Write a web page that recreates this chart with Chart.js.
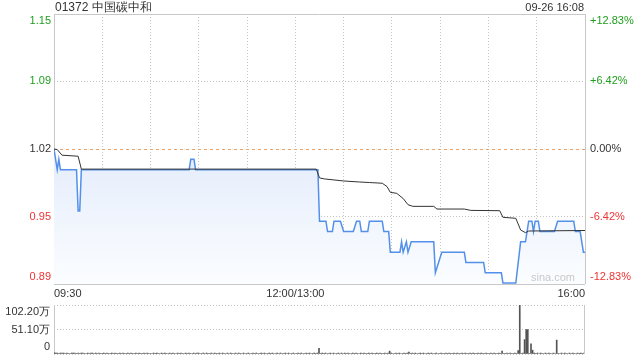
<!DOCTYPE html>
<html>
<head>
<meta charset="utf-8">
<script src="https://cdn.jsdelivr.net/npm/chart.js@4"></script>
<style>
body { margin: 0; background: #fff; }
#wrap { position: relative; width: 640px; height: 360px; font-family: "Liberation Sans", Arial, sans-serif; color: #333; overflow: hidden; }
#title { position: absolute; left: 55px; top: 0px; font-size: 12px; line-height: 15px; }
#time { position: absolute; right: 56px; top: 0px; font-size: 11px; line-height: 15px; }
#logo { position: absolute; left: 531px; top: 271px; font-size: 11px; color: #c8c8c8; }
canvas { position: absolute; left: 0; }
#priceChart { top: 0; }
#volumeChart { top: 300px; }
</style>
</head>
<body>
<div id="wrap">
  <canvas id="priceChart" width="640" height="300"></canvas>
  <canvas id="volumeChart" width="640" height="60"></canvas>
  <div id="title"></div>
  <div id="time"></div>
  <div id="logo">sina.com</div>
</div>
<script>
var stockName = "01372 中国碳中和";
var quoteTime = "09-26 16:08";
var prevClose = 1.02;
var pctTicks = [-12.83, -6.42, 0, 6.42, 12.83];
var timeTickMinutes = [0, 150, 330];
var timeTickLabels = ["09:30", "12:00/13:00", "16:00"];

// minutes since 09:30 (lunch break removed) where the price changes
var priceMinutes = [0, 2, 3, 4, 14, 15, 16, 17, 84, 85, 87, 88, 164, 165, 169, 170, 173, 174, 178, 180,
    186, 188, 190, 191, 195, 196, 204, 205, 208, 209, 215, 216, 217, 219, 220, 222, 236, 237, 239, 241,
    255, 256, 267, 268, 278, 279, 287, 290, 293, 295, 297, 298, 299, 301, 302, 311, 313, 323, 324, 327,
    329, 330];
var priceValues = [1.02, 1.00, 1.01, 1.00, 1.00, 0.96, 0.96, 1.00, 1.00, 1.01, 1.01, 1.00, 1.00, 0.95, 0.95, 0.94, 0.94, 0.95, 0.95, 0.94,
    0.94, 0.95, 0.95, 0.94, 0.94, 0.95, 0.95, 0.94, 0.94, 0.92, 0.92, 0.93, 0.92, 0.93, 0.92, 0.93, 0.93, 0.90, 0.91, 0.92,
    0.92, 0.91, 0.91, 0.90, 0.90, 0.89, 0.89, 0.93, 0.93, 0.95, 0.95, 0.94, 0.95, 0.95, 0.94, 0.94, 0.95, 0.95, 0.94, 0.94,
    0.92, 0.92];

var avgMinutes = [0, 2, 5, 15, 17, 163, 165, 168, 174, 180, 190, 196, 204, 207, 209, 213, 217, 220, 223, 236,
    238, 255, 259, 277, 279, 287, 290, 293, 295, 330];
var avgValues = [1.02, 1.0195, 1.014, 1.013, 1.0005, 1.0005, 0.992, 0.991, 0.990, 0.989, 0.988, 0.9875, 0.9868, 0.9835, 0.978, 0.977, 0.972, 0.966, 0.9644, 0.9644,
    0.9618, 0.9618, 0.9605, 0.9602, 0.9538, 0.9528, 0.9415, 0.9389, 0.9405, 0.941];

// volume per minute in 万 shares, one digit per minute for the quiet minutes
var volumeSmall =
    "322122212112221212211212212121" +
    "121211212112121121211212112121" +
    "112121121211212112121121211212" +
    "211212112121121211212112121121" +
    "121121211212112121121211212112" +
    "112121121211212112121121211212" +
    "121211212112121121211212112121" +
    "211212112121121211212112121121" +
    "121121211212112121121211212112" +
    "112121121211212112121121211212" +
    "121211212112121121211212112121" +
    "2";
var volumeBigMinutes = [165, 209, 221, 279, 289, 290, 293, 294, 295, 297, 298, 313];
var volumeBigValues = [12, 6, 4, 6, 7, 102.2, 30, 51, 51, 21, 8, 29];
var volumeTicks = [0, 51.10, 102.20];
var volumeTickLabels = ["0", "51.10万", "102.20万"];

var green = "#1e9e1e";
var red = "#ee3333";
var orange = "#f0a06a";
var gridColor = "#c4c4c4";
var frameColor = "#c8c8c8";

document.getElementById("title").textContent = stockName;
document.getElementById("time").textContent = quoteTime;

var pricePoints = priceMinutes.map(function(m, i) { return { x: m, y: priceValues[i] }; });
var avgPoints = avgMinutes.map(function(m, i) { return { x: m, y: avgValues[i] }; });

var volumeByMinute = volumeSmall.split("").map(Number);
volumeBigMinutes.forEach(function(m, i) { volumeByMinute[m] = volumeBigValues[i]; });
var volumePoints = volumeByMinute.map(function(v, m) { return { x: m, y: v }; });

var priceTicks = pctTicks.map(function(p) { return prevClose * (1 + p / 100); });

function fillGradient(context) {
    var chart = context.chart;
    var area = chart.chartArea;
    if (!area) {
        return "rgba(0,0,0,0)";
    }
    var g = chart.ctx.createLinearGradient(0, area.top, 0, area.bottom);
    g.addColorStop(0, "#cddcf8");
    g.addColorStop(1, "#fbfdff");
    return g;
}

function edgeLabel(text, index, count) {
    // push the top label down and the bottom label up, as sina does
    if (index === 0) return [text, ""];
    if (index === count - 1) return ["", text];
    return text;
}

function fixWidth(w) {
    return function(s) {
        s.width = w;
        s.paddingTop = 0;
        s.paddingBottom = 0;
    };
}

// grid line kinds: the outer frame is solid, prev close is orange dashed, the rest dotted
function isEdge(c) {
    return c.tick && (c.index === 0 || c.index === c.scale.ticks.length - 1);
}
function isPrevClose(c) {
    return c.tick && Math.abs(c.tick.value - prevClose) < 1e-6;
}

var priceChart = new Chart(document.getElementById("priceChart"), {
    type: "line",
    data: {
        datasets: [
            {
                label: "均价",
                data: avgPoints,
                borderColor: "#333",
                borderWidth: 1,
                pointRadius: 0,
                fill: false,
                order: 0
            },
            {
                label: "价格",
                data: pricePoints,
                borderColor: "#5390ea",
                borderWidth: 1.5,
                pointRadius: 0,
                fill: "start",
                backgroundColor: fillGradient,
                order: 1
            }
        ]
    },
    options: {
        responsive: false,
        animation: false,
        layout: { padding: { top: 14, left: 0, right: 0, bottom: 0 }, autoPadding: false },
        plugins: { legend: { display: false }, tooltip: { enabled: false } },
        scales: {
            x: {
                type: "linear",
                min: 0,
                max: 330,
                afterFit: function(s) {
                    s.height = 16;
                    s.paddingLeft = 0;
                    s.paddingRight = 0;
                },
                ticks: {
                    stepSize: 30,
                    autoSkip: false,
                    maxRotation: 0,
                    align: "inner",
                    padding: 3,
                    color: "#333",
                    font: { size: 11, family: "Liberation Sans" },
                    callback: function(value) {
                        var i = timeTickMinutes.indexOf(value);
                        return i >= 0 ? timeTickLabels[i] : "";
                    }
                },
                grid: {
                    drawTicks: false,
                    color: function(c) { return isEdge(c) ? frameColor : gridColor; }
                },
                border: {
                    display: false,
                    dash: function(c) { return isEdge(c) ? [] : [1, 2]; }
                }
            },
            y: {
                position: "left",
                min: priceTicks[0],
                max: priceTicks[priceTicks.length - 1],
                afterFit: fixWidth(54),
                afterBuildTicks: function(s) {
                    s.ticks = priceTicks.map(function(v) { return { value: v }; });
                },
                ticks: {
                    autoSkip: false,
                    padding: 3,
                    font: { size: 11, family: "Liberation Sans" },
                    color: function(c) {
                        var v = c.tick.value;
                        if (Math.abs(v - prevClose) < 1e-6) return "#333";
                        return v > prevClose ? green : red;
                    },
                    callback: function(value, index, ticks) {
                        return edgeLabel(value.toFixed(2), index, ticks.length);
                    }
                },
                grid: {
                    drawTicks: false,
                    color: function(c) {
                        if (isPrevClose(c)) return orange;
                        return isEdge(c) ? frameColor : gridColor;
                    }
                },
                border: {
                    display: false,
                    dash: function(c) {
                        if (isPrevClose(c)) return [3, 3];
                        return isEdge(c) ? [] : [1, 2];
                    }
                }
            },
            y2: {
                position: "right",
                min: pctTicks[0],
                max: pctTicks[pctTicks.length - 1],
                afterFit: fixWidth(55),
                afterBuildTicks: function(s) {
                    s.ticks = pctTicks.map(function(v) { return { value: v }; });
                },
                ticks: {
                    autoSkip: false,
                    padding: 5,
                    font: { size: 11, family: "Liberation Sans" },
                    color: function(c) {
                        var v = c.tick.value;
                        if (v === 0) return "#333";
                        return v > 0 ? green : red;
                    },
                    callback: function(value, index, ticks) {
                        var text = (value > 0 ? "+" : "") + value.toFixed(2) + "%";
                        return edgeLabel(text, index, ticks.length);
                    }
                },
                grid: { drawOnChartArea: false, drawTicks: false },
                border: { display: false }
            }
        }
    }
});

var volumeChart = new Chart(document.getElementById("volumeChart"), {
    type: "bar",
    data: {
        datasets: [
            {
                label: "成交量",
                data: volumePoints,
                backgroundColor: "#555",
                barThickness: 1
            }
        ]
    },
    options: {
        responsive: false,
        animation: false,
        layout: { padding: { top: 5, left: 0, right: 56, bottom: 6 }, autoPadding: false },
        plugins: { legend: { display: false }, tooltip: { enabled: false } },
        scales: {
            x: {
                type: "linear",
                min: 0,
                max: 330,
                offset: false,
                afterFit: function(s) {
                    s.height = 0;
                    s.paddingLeft = 0;
                    s.paddingRight = 0;
                },
                ticks: { display: false, stepSize: 30 },
                grid: {
                    offset: false,
                    drawTicks: false,
                    color: function(c) { return isEdge(c) ? frameColor : "rgba(0,0,0,0)"; }
                },
                border: { display: false }
            },
            y: {
                min: 0,
                max: volumeTicks[volumeTicks.length - 1],
                afterFit: fixWidth(54),
                afterBuildTicks: function(s) {
                    s.ticks = volumeTicks.map(function(v) { return { value: v }; });
                },
                ticks: {
                    autoSkip: false,
                    padding: 4,
                    color: "#333",
                    font: { size: 11, family: "Liberation Sans" },
                    callback: function(value, index, ticks) {
                        return edgeLabel(volumeTickLabels[index], index, ticks.length);
                    }
                },
                grid: { color: gridColor, drawTicks: false },
                border: { display: false, dash: [1, 2] }
            }
        }
    }
});
</script>
</body>
</html>
